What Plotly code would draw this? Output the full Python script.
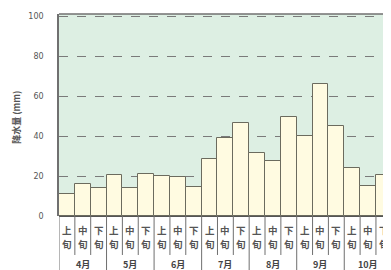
import plotly.graph_objects as go

months = ["4月", "5月", "6月", "7月", "8月", "9月", "10月"]
periods = ["上旬", "中旬", "下旬"]
rain = [11, 16, 14, 20.5, 14, 21, 20, 19.5, 14.5, 28.5, 39, 46.5,
        31.5, 27.5, 49.5, 40, 66, 45, 24, 15, 20.5]
y_ticks = [0, 20, 40, 60, 80, 100]

n = len(rain)
xs = list(range(n))

FONT = "Noto Sans CJK JP"
fig = go.Figure()
fig.add_trace(go.Bar(
    x=xs, y=rain, width=1,
    marker=dict(color="#fffbe1", line=dict(color="#6b6b5e", width=1)),
))

shapes = []
# separators below the axis
for i in range(n + 1):
    xb = i - 0.5
    is_month = (i % 3 == 0)
    shapes.append(dict(type="line", xref="x", yref="paper", x0=xb, x1=xb,
                       y0=0, y1=-0.27 if is_month else -0.193,
                       line=dict(color="#6f6f6f", width=1)))
# top frame
shapes.append(dict(type="line", xref="paper", yref="paper", x0=0, x1=1, y0=1, y1=1,
                   line=dict(color="#707070", width=1.5)))

annotations = []
for i in xs:
    label = periods[i % 3]
    for k, ch in enumerate(label):
        annotations.append(dict(x=i, y=-0.068 - 0.07 * k, xref="x", yref="paper",
                                text="<b>" + ch + "</b>",
                                showarrow=False, yanchor="middle", xanchor="center",
                                borderpad=0,
                                font=dict(family=FONT, size=9.5, color="#555")))
for m, name in enumerate(months):
    annotations.append(dict(x=m * 3 + 1, y=-0.238, xref="x", yref="paper",
                            text="<b>" + name + "</b>", showarrow=False,
                            yanchor="middle", xanchor="center",
                            font=dict(family=FONT, size=9, color="#444")))
annotations.append(dict(x=-0.13, y=0.49, xref="paper", yref="paper",
                        text="<b>降水量 (mm)</b>", textangle=-90, showarrow=False,
                        xanchor="center", yanchor="middle",
                        font=dict(family=FONT, size=9, color="#555")))

fig.update_layout(
    width=383, height=262,
    margin=dict(l=51, r=0, t=6, b=54),
    paper_bgcolor="white", plot_bgcolor="#ddefe3",
    showlegend=False, bargap=0,
    shapes=shapes, annotations=annotations,
    xaxis=dict(range=[-0.5, 20.45], showticklabels=False, ticks="", automargin=False,
               showgrid=False, zeroline=False, showline=False, fixedrange=True),
    yaxis=dict(range=[0, 101], tickvals=y_ticks, ticks="", automargin=False,
               tickfont=dict(family="DejaVu Sans", size=8, color="#555"),
               ticklabelstandoff=12,
               showgrid=True, gridcolor="#7a7a7a", griddash="dash", gridwidth=1,
               zeroline=True, zerolinecolor="#555", zerolinewidth=1.5,
               showline=True, linecolor="#707070", linewidth=1.5),
)
fig.write_html("out.html")
